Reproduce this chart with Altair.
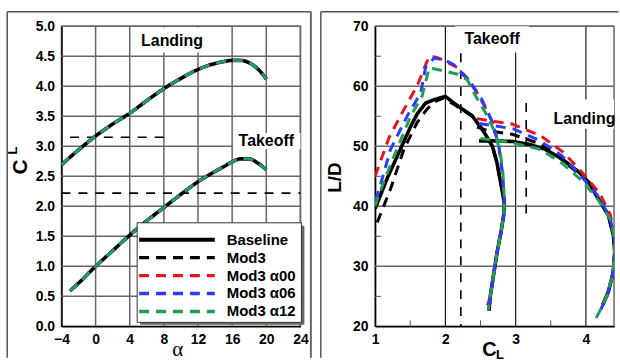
import altair as alt
import pandas as pd

# ---------------- data ----------------
SERIES = ["Baseline", "Mod3", "Mod3 α00", "Mod3 α06", "Mod3 α12"]
COLORS = ["#000000", "#000000", "#e8141c", "#2a3cff", "#1f9e55"]
DASHES = [[1, 0], [10, 7], [10, 7], [10, 7], [10, 7]]
WIDTHS = [3.6, 3.0, 3.0, 3.0, 3.0]

# Left panel: CL vs alpha (all configurations overlap)
ALPHA_LAND = [-4, -2, 0, 2, 4, 6, 8, 10, 12, 14, 15, 16, 17, 18, 19, 20]
CL_LAND = [2.69, 2.94, 3.17, 3.37, 3.55, 3.76, 3.96, 4.13, 4.28, 4.38, 4.41, 4.43, 4.43, 4.39, 4.29, 4.12]
ALPHA_TO = [-3, -2, 0, 2, 4, 6, 8, 10, 12, 14, 15, 16, 17, 18, 19, 20]
CL_TO = [0.59, 0.72, 1.0, 1.26, 1.52, 1.76, 1.98, 2.2, 2.41, 2.58, 2.66, 2.74, 2.79, 2.79, 2.72, 2.61]

CL_REF_LAND = 3.15
CL_REF_TO = 2.22

# Right panel: L/D vs CL, takeoff branch
TO_CL = {
    "Baseline": [1.0, 1.17, 1.36, 1.51, 1.6, 1.72, 1.85, 2.0, 2.12, 2.24, 2.38, 2.52, 2.6, 2.67, 2.73, 2.77, 2.81, 2.84, 2.83, 2.79, 2.74, 2.69, 2.64, 2.62],
    "Mod3": [1.03, 1.22, 1.41, 1.6, 1.74, 1.85, 1.97, 2.12, 2.24, 2.38, 2.52, 2.6, 2.67, 2.73, 2.77, 2.81, 2.84, 2.83, 2.79, 2.74, 2.69, 2.64, 2.62],
    "Mod3 α00": [1.0, 1.2, 1.4, 1.6, 1.72, 1.77, 1.88, 2.0, 2.17, 2.31, 2.45, 2.56, 2.67, 2.76, 2.81, 2.84, 2.83, 2.79, 2.74, 2.69, 2.64, 2.6],
    "Mod3 α06": [1.0, 1.06, 1.22, 1.46, 1.65, 1.72, 1.84, 2.0, 2.12, 2.36, 2.52, 2.67, 2.76, 2.81, 2.84, 2.83, 2.79, 2.74, 2.69, 2.64, 2.61],
    "Mod3 α12": [1.0, 1.03, 1.27, 1.51, 1.67, 1.77, 1.88, 2.0, 2.17, 2.31, 2.43, 2.57, 2.7, 2.78, 2.82, 2.84, 2.83, 2.79, 2.74, 2.69, 2.64, 2.61],
}
TO_LD = {
    "Baseline": [39.6, 44.6, 49.5, 53.4, 55.4, 57.2, 57.8, 58.3, 57.2, 56.2, 55.1, 52.9, 51.4, 50.0, 47.5, 45.0, 42.5, 40.5, 38.5, 35.6, 32.6, 28.9, 25.1, 22.6],
    "Mod3": [37.3, 42.9, 49.5, 54.0, 56.2, 57.4, 58.0, 57.0, 56.1, 55.0, 52.8, 51.3, 49.9, 47.4, 45.0, 42.5, 40.5, 38.5, 35.6, 32.6, 28.9, 25.1, 22.6],
    "Mod3 α00": [45.0, 51.5, 55.9, 60.1, 63.6, 65.0, 64.8, 64.2, 63.1, 61.4, 58.9, 56.6, 54.0, 50.1, 45.7, 41.0, 38.5, 35.6, 32.6, 28.9, 25.1, 23.5],
    "Mod3 α06": [41.0, 42.9, 49.5, 55.1, 58.9, 63.2, 64.7, 64.3, 63.6, 60.6, 57.8, 54.0, 50.1, 45.7, 41.0, 38.5, 35.6, 32.6, 28.9, 25.1, 22.8],
    "Mod3 α12": [40.0, 41.2, 48.4, 55.1, 58.4, 63.1, 62.8, 62.5, 62.0, 61.1, 58.4, 55.6, 52.5, 49.0, 45.5, 41.0, 38.5, 35.6, 32.6, 28.9, 25.1, 22.6],
}
# Right panel: landing branch
LA_CL = {
    "Baseline": [2.48, 2.7, 2.95, 3.2, 3.42, 3.66, 3.9, 4.04, 4.18, 4.32, 4.39, 4.41, 4.39, 4.32, 4.24],
    "Mod3": [2.45, 2.6, 2.95, 3.35, 3.68, 3.9, 4.04, 4.18, 4.32, 4.39, 4.41, 4.39, 4.32, 4.24],
    "Mod3 α00": [2.45, 2.6, 2.95, 3.35, 3.68, 3.94, 4.2, 4.35, 4.4, 4.41, 4.38, 4.3, 4.2],
    "Mod3 α06": [2.48, 2.97, 3.35, 3.66, 3.92, 4.18, 4.34, 4.4, 4.41, 4.38, 4.3, 4.17],
    "Mod3 α12": [2.5, 2.95, 3.35, 3.68, 3.94, 4.18, 4.34, 4.4, 4.41, 4.38, 4.28, 4.13],
}
LA_LD = {
    "Baseline": [50.9, 50.9, 50.8, 50.3, 49.5, 47.9, 45.7, 44.0, 41.2, 38.5, 35.2, 32.4, 29.1, 25.8, 23.6],
    "Mod3": [53.2, 52.6, 52.0, 50.4, 47.6, 45.4, 43.8, 41.2, 38.5, 35.2, 32.4, 29.1, 25.8, 23.6],
    "Mod3 α00": [54.6, 54.3, 53.7, 51.8, 49.0, 45.7, 42.1, 38.5, 35.0, 32.0, 28.5, 25.0, 22.8],
    "Mod3 α06": [53.8, 52.9, 50.9, 48.4, 45.2, 41.6, 38.2, 35.0, 32.0, 28.5, 25.0, 21.8],
    "Mod3 α12": [51.3, 50.6, 49.5, 47.0, 44.3, 41.0, 38.0, 35.0, 32.0, 28.5, 24.5, 21.0],
}

LEFT_X_TICKS = [-4, 0, 4, 8, 12, 16, 20, 24]
LEFT_Y_TICKS = [0.0, 0.5, 1.0, 1.5, 2.0, 2.5, 3.0, 3.5, 4.0, 4.5, 5.0]
RIGHT_X_TICKS = [1, 2, 3, 4]
RIGHT_Y_TICKS = [20, 30, 40, 50, 60, 70]

# ---------------- style ----------------
FONT = "Liberation Sans"
W, H = 240, 301.5
FRAME = "#555555"
GRID = "#666666"

AX = dict(labelFont=FONT, labelFontSize=14, labelFontWeight="bold", labelColor="black",
          ticks=False, tickSize=0, domainColor="black", domainWidth=1.5,
          grid=False, title=None, labelOverlap=False, labelFlush=False)

one = pd.DataFrame({"k": [0]})


def frame_layers(x_left, x_right, right_side=True):
    layers = [
        alt.Chart(one).mark_rule(color=FRAME, strokeWidth=1.5).encode(
            x=alt.value(x_left), y=alt.value(-14.5), y2=alt.value(333)),
        alt.Chart(one).mark_rule(color=FRAME, strokeWidth=1.5).encode(
            x=alt.value(x_left), x2=alt.value(x_right), y=alt.value(-14.5)),
    ]
    if right_side:
        layers.append(alt.Chart(one).mark_rule(color="#666666", strokeWidth=2).encode(
            x=alt.value(x_right), y=alt.value(-14.5), y2=alt.value(333)))
    return layers


def text_at(txt, x, y, size, angle=0, font=FONT, weight="bold"):
    kw = dict(fontSize=size, font=font, fontWeight=weight, color="black",
              align="center", baseline="middle")
    if angle:
        kw["angle"] = angle
    return alt.Chart(one).mark_text(**kw).encode(
        x=alt.value(x), y=alt.value(y), text=alt.value(txt))


def grid_layers(X, Y, xt, yt, xcolor, ycolor, xw, yw):
    gx = pd.DataFrame({"x": xt})
    gy = pd.DataFrame({"y": yt})
    return [
        alt.Chart(gx).mark_rule(color=xcolor, strokeWidth=xw).encode(x=X),
        alt.Chart(gy).mark_rule(color=ycolor, strokeWidth=yw).encode(y=Y),
    ]


# ---------------- left panel ----------------
XL = alt.X("x:Q", scale=alt.Scale(domain=[-4, 24], nice=False, zero=False),
           axis=alt.Axis(values=LEFT_X_TICKS, labelPadding=6, **AX))
YL = alt.Y("y:Q", scale=alt.Scale(domain=[0, 5], nice=False, zero=False),
           axis=alt.Axis(values=LEFT_Y_TICKS, format=".1f", labelPadding=7, **AX))

left_layers = frame_layers(-54.5, 250.5, True)
left_layers += grid_layers(XL, YL, LEFT_X_TICKS[1:], LEFT_Y_TICKS[1:], GRID, GRID, 1.5, 1.5)

box_left = pd.DataFrame({"x": [4.8, 16.1], "x2": [13.3, 24.0], "y": [4.56, 2.95], "y2": [4.98, 3.22]})
lab_left = pd.DataFrame({"x": [8.95, 20.0], "y": [4.75, 3.08], "t": ["Landing", "Takeoff"]})
left_layers.append(alt.Chart(box_left).mark_rect(color="white").encode(x=XL, x2="x2:Q", y=YL, y2="y2:Q"))

ref_left = pd.DataFrame({"x": [-3.0, -4.0], "x2": [8.4, 24.0], "y": [CL_REF_LAND, CL_REF_TO]})
left_layers.append(alt.Chart(ref_left).mark_rule(color="black", strokeWidth=1.6, strokeDash=[9, 8]).encode(
    x=XL, x2="x2:Q", y=YL))

for s, c, d, w in zip(SERIES, COLORS, DASHES, WIDTHS):
    rows = []
    for i, (a, v) in enumerate(zip(ALPHA_LAND, CL_LAND)):
        rows.append({"x": a, "y": v, "b": "landing", "i": i})
    for i, (a, v) in enumerate(zip(ALPHA_TO, CL_TO)):
        rows.append({"x": a, "y": v, "b": "takeoff", "i": i})
    left_layers.append(alt.Chart(pd.DataFrame(rows)).mark_line(
        color=c, strokeDash=d, strokeWidth=w, interpolate="monotone", clip=True).encode(
        x=XL, y=YL, detail="b:N", order="i:Q"))

left_layers.append(alt.Chart(lab_left).mark_text(font=FONT, fontSize=16, fontWeight="bold",
                                                  color="black", baseline="middle").encode(
    x=XL, y=YL, text="t:N"))

# legend box (manual, long line samples)
left_layers.append(alt.Chart(one).mark_rect(color="#666666").encode(
    x=alt.value(79), x2=alt.value(244), y=alt.value(200.5), y2=alt.value(300)))
left_layers.append(alt.Chart(one).mark_rect(fill="white", stroke="#333333", strokeWidth=1).encode(
    x=alt.value(76), x2=alt.value(241), y=alt.value(197.5), y2=alt.value(297.5)))
for i, (s, c, d, w) in enumerate(zip(SERIES, COLORS, DASHES, WIDTHS)):
    yy = 214.5 + 18 * i
    left_layers.append(alt.Chart(one).mark_rule(color=c, strokeDash=d, strokeWidth=w + 0.4).encode(
        x=alt.value(78), x2=alt.value(154), y=alt.value(yy)))
    left_layers.append(alt.Chart(one).mark_text(font=FONT, fontSize=15, fontWeight="bold", color="black",
                                                 align="left", baseline="middle").encode(
        x=alt.value(166), y=alt.value(yy), text=alt.value(s)))

left_layers.append(text_at("C", -41, 141.5, 21, angle=270))
left_layers.append(text_at("L", -48.5, 125, 13, angle=270))
left_layers.append(text_at("α", 116.7, 325.5, 21, font="Liberation Serif", weight="normal"))

left = alt.layer(*left_layers).properties(width=W, height=H)

# ---------------- right panel ----------------
XR = alt.X("x:Q", scale=alt.Scale(domain=[1, 4.4], nice=False, zero=False),
           axis=alt.Axis(values=RIGHT_X_TICKS, format="d", labelPadding=6, **AX))
YR = alt.Y("y:Q", scale=alt.Scale(domain=[20, 70], nice=False, zero=False),
           axis=alt.Axis(values=RIGHT_Y_TICKS, format="d", labelPadding=7, **AX))

right_layers = frame_layers(-54.5, 244.5, False)
right_layers += grid_layers(XR, YR, RIGHT_X_TICKS[1:], RIGHT_Y_TICKS[1:], "#1a1a1a", GRID, 1.2, 1.5)

box_right = pd.DataFrame({"x": [2.14, 3.72], "x2": [3.19, 4.4], "y": [65.6, 52.9], "y2": [70.0, 57.8]})
lab_right = pd.DataFrame({"x": [2.665, 3.98], "y": [67.9, 54.5], "t": ["Takeoff", "Landing"]})
right_layers.append(alt.Chart(box_right).mark_rect(color="white").encode(x=XR, x2="x2:Q", y=YR, y2="y2:Q"))

minor_y = pd.DataFrame({"y": [25, 35, 45, 55, 65]})
right_layers.append(alt.Chart(minor_y).mark_rule(color="#555555", strokeWidth=1).encode(
    y=YR, x=alt.value(0), x2=alt.value(6)))
minor_x = pd.DataFrame({"x": [1.5, 2.5, 3.5]})
right_layers.append(alt.Chart(minor_x).mark_rule(color="#555555", strokeWidth=1).encode(
    x=XR, y=alt.value(H), y2=alt.value(H - 6)))

ref_right = pd.DataFrame({"x": [CL_REF_TO, CL_REF_LAND], "y": [65.5, 57.2], "y2": [20.0, 37.5]})
right_layers.append(alt.Chart(ref_right).mark_rule(color="black", strokeWidth=1.6, strokeDash=[9, 8]).encode(
    x=XR, y=YR, y2="y2:Q"))

for s, c, d, w in zip(SERIES, COLORS, DASHES, WIDTHS):
    rows = []
    for i, (a, v) in enumerate(zip(TO_CL[s], TO_LD[s])):
        rows.append({"x": a, "y": v, "b": "takeoff", "i": i})
    for i, (a, v) in enumerate(zip(LA_CL[s], LA_LD[s])):
        rows.append({"x": a, "y": v, "b": "landing", "i": i})
    right_layers.append(alt.Chart(pd.DataFrame(rows)).mark_line(
        color=c, strokeDash=d, strokeWidth=w, clip=True).encode(
        x=XR, y=YR, detail="b:N", order="i:Q"))

right_layers.append(alt.Chart(lab_right).mark_text(font=FONT, fontSize=16, fontWeight="bold",
                                                    color="black", baseline="middle").encode(
    x=XR, y=YR, text="t:N"))

right_layers.append(text_at("L/D", -40.7, 152, 19, angle=270))
right_layers.append(text_at("C", 114.8, 325, 20))
right_layers.append(text_at("L", 125.5, 330, 13))

right = alt.layer(*right_layers).properties(width=W, height=H)

chart = alt.hconcat(left, right, spacing=6).properties(
    padding={"left": 5.75, "top": 8.5, "right": 0, "bottom": 3},
    background="white",
).configure_view(stroke="#666666", strokeWidth=1.5)

chart.save("out.html", embed_options={"renderer": "svg", "actions": False})
